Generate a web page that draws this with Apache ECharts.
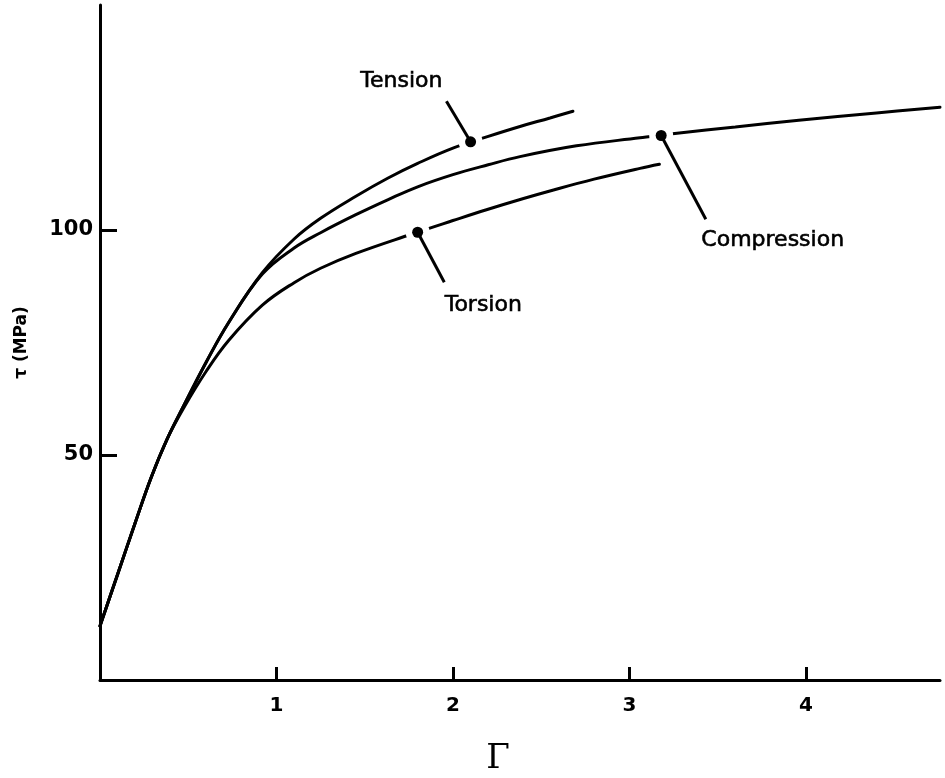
<!DOCTYPE html>
<html>
<head>
<meta charset="utf-8">
<title>Shear stress vs. shear strain</title>
<script src="https://cdn.jsdelivr.net/npm/echarts@6/dist/echarts.min.js"></script>
<style>
  html, body { margin: 0; padding: 0; background: #ffffff; }
  #chart { width: 945px; height: 778px; }
</style>
</head>
<body>
<div id="chart"></div>
<script>
// Axis ticks
const gammaTicks = [1, 2, 3, 4];
const tauTicks = [50, 100];

// Tension curve
const tensionGamma = [0, 0.1, 0.2, 0.29, 0.38, 0.475, 0.6, 0.73, 0.92, 1.1, 1.25, 1.45, 1.63, 1.8, 2.0, 2.2, 2.38, 2.55, 2.68];
const tensionTau   = [12, 23.5, 35, 45, 53.5, 61, 70.5, 79.5, 90.5, 98, 102.6, 107.5, 111.5, 114.8, 118.2, 120.8, 123, 124.9, 126.4];

// Compression curve
const compressionGamma = [0, 0.1, 0.2, 0.29, 0.38, 0.475, 0.6, 0.73, 0.92, 1.1, 1.25, 1.45, 1.63, 1.8, 2.0, 2.2, 2.38, 2.7, 3.06, 3.27, 3.6, 3.96, 4.4, 4.76];
const compressionTau   = [12, 23.5, 35, 45, 53.5, 61, 70.5, 79.5, 90.2, 96, 99.4, 103.4, 106.7, 109.6, 112.3, 114.5, 116.3, 118.7, 120.5, 121.5, 122.9, 124.4, 126, 127.3];

// Torsion curve
const torsionGamma = [0, 0.1, 0.2, 0.29, 0.38, 0.475, 0.6, 0.73, 0.92, 1.1, 1.25, 1.45, 1.76, 2.0, 2.19, 2.4, 2.57, 2.8, 3.06, 3.17];
const torsionTau   = [12, 23.5, 35, 45, 53.5, 60.5, 68.5, 75.5, 83.3, 88.3, 91.5, 94.8, 99.0, 102.1, 104.5, 107, 108.9, 111.3, 113.7, 114.6];

// Curve callouts: point on curve, end of leader line, text position (data units)
const calloutNames  = ['Tension', 'Torsion', 'Compression'];
const calloutPoint  = [[2.10, 119.6], [1.80, 99.5], [3.18, 121.0]];
const calloutEnd    = [[1.963, 128.6], [1.951, 88.4], [3.433, 102.4]];
const calloutText   = [[1.708, 133.1], [2.172, 83.3], [3.812, 97.8]];

const zip = (xs, ys) => xs.map((x, i) => [x, ys[i]]);
const INK = '#000000';
const FONT = 'DejaVu Sans';

const curveStyle = { color: INK, width: 3, cap: 'round' };

function curve(name, xs, ys) {
  return {
    name: name,
    type: 'line',
    data: zip(xs, ys),
    smooth: 0.4,
    showSymbol: false,
    lineStyle: curveStyle,
    z: 2,
    silent: true
  };
}

const series = [
  curve('Tension', tensionGamma, tensionTau),
  curve('Compression', compressionGamma, compressionTau),
  curve('Torsion', torsionGamma, torsionTau),
  // white halo that breaks each curve around its callout dot
  {
    type: 'scatter',
    data: calloutPoint,
    symbol: 'circle',
    symbolSize: 24,
    itemStyle: { color: '#ffffff', opacity: 1 },
    z: 3,
    silent: true
  }
];

// leader lines
calloutPoint.forEach((p, i) => {
  series.push({
    type: 'line',
    data: [p, calloutEnd[i]],
    showSymbol: false,
    lineStyle: { color: INK, width: 3 },
    z: 4,
    silent: true
  });
});

// callout dots
series.push({
  type: 'scatter',
  data: calloutPoint,
  symbol: 'circle',
  symbolSize: 11,
  itemStyle: { color: INK, opacity: 1 },
  z: 5,
  silent: true
});

// callout texts
series.push({
  type: 'scatter',
  data: calloutText.map((p, i) => ({ value: p, name: calloutNames[i] })),
  symbolSize: 0,
  itemStyle: { opacity: 1 },
  z: 6,
  silent: true,
  label: {
    show: true,
    position: 'inside',
    formatter: (d) => d.name,
    color: INK,
    opacity: 1,
    fontFamily: FONT,
    fontSize: 22,
    textBorderColor: INK,
    textBorderWidth: 0.6
  }
});

const chart = echarts.init(document.getElementById('chart'), null, { renderer: 'canvas' });

chart.setOption({
  backgroundColor: '#ffffff',
  animation: false,
  grid: { left: 100, right: 5, top: 5, bottom: 98, containLabel: false, outerBoundsMode: 'none' },
  xAxis: {
    type: 'value',
    min: 0,
    max: 4.76,
    name: 'Γ',
    nameLocation: 'middle',
    nameGap: 62,
    nameTextStyle: {
      fontFamily: 'DejaVu Serif',
      fontSize: 34,
      color: INK,
      padding: [0, 44, 0, 0]
    },
    axisLine: { lineStyle: { color: INK, width: 3 } },
    axisTick: { show: true, inside: true, length: 13, customValues: gammaTicks, lineStyle: { color: INK, width: 3 } },
    axisLabel: {
      customValues: gammaTicks,
      margin: 16,
      color: INK,
      fontFamily: FONT,
      fontSize: 20,
      fontWeight: 'bold'
    },
    splitLine: { show: false }
  },
  yAxis: {
    type: 'value',
    min: 0,
    max: 150,
    name: 'τ (MPa)',
    nameLocation: 'middle',
    nameRotate: 90,
    nameGap: 70,
    nameTextStyle: {
      fontFamily: FONT,
      fontSize: 17,
      fontWeight: 'bold',
      color: INK
    },
    axisLine: { lineStyle: { color: INK, width: 3 } },
    axisTick: { show: true, inside: true, length: 17, customValues: tauTicks, lineStyle: { color: INK, width: 3 } },
    axisLabel: {
      customValues: tauTicks,
      margin: 7,
      color: INK,
      fontFamily: FONT,
      fontSize: 21,
      fontWeight: 'bold'
    },
    splitLine: { show: false }
  },
  series: series
});
</script>
</body>
</html>
